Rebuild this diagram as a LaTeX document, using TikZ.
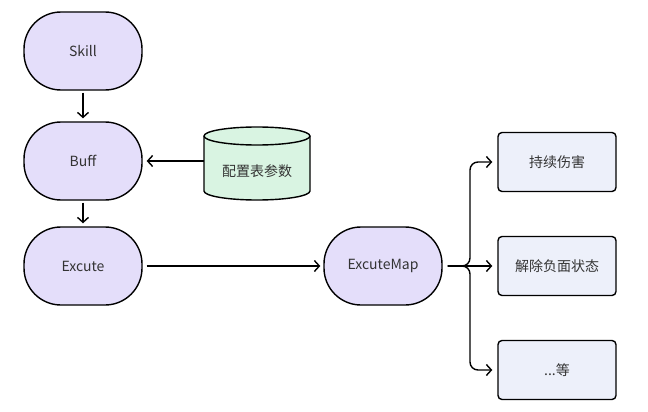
\documentclass[tikz,border=0pt]{standalone}
\usepackage{fontspec}
\setmainfont{Noto Sans CJK SC}
\usetikzlibrary{arrows.meta}
\definecolor{lav}{HTML}{E4DEFA}
\definecolor{mint}{HTML}{D9F4E2}
\definecolor{pale}{HTML}{EDF0FA}
\definecolor{txt}{HTML}{333333}
\begin{document}
\begin{tikzpicture}[x=1pt,y=-1pt,
  font=\fontsize{14pt}{16pt}\selectfont,
  pill/.style={draw=black, line width=1.4pt, fill=lav, rounded corners=37pt,
    minimum width=118pt, minimum height=78pt, text=txt, inner sep=0pt},
  leaf/.style={draw=black, line width=1.4pt, fill=pale, rounded corners=4pt,
    minimum width=118pt, minimum height=59pt, text=txt, inner sep=0pt},
  conn/.style={line width=1.4pt, -{Straight Barb[length=5pt,width=11pt,line width=1.4pt]}}]
\useasboundingbox (0,0) rectangle (648,412);
\fill[white] (0,0) rectangle (648,412);
\node[pill] (skill) at (83,51) {Skill};
\node[pill] (buff) at (83,161) {Buff};
\node[pill] (exc) at (83,266) {Excute};
\node[pill] (em) at (383,266) {ExcuteMap};
\node[leaf] (b1) at (557,162) {持续伤害};
\node[leaf] (b2) at (557,266) {解除负面状态};
\node[leaf] (b3) at (557,370) {...等};
% cylinder
\node[minimum width=106pt, minimum height=73pt, inner sep=0pt] (cfg) at (257,163.5) {};
\filldraw[fill=mint, draw=black, line width=1.4pt]
  (204,136) -- (204,191) arc[start angle=180, end angle=360, x radius=53pt, y radius=9pt]
  -- (310,136) arc[start angle=0, end angle=180, x radius=53pt, y radius=9pt] -- cycle;
\draw[line width=1.4pt] (204,136) arc[start angle=180, end angle=360, x radius=53pt, y radius=9pt];
\node[text=txt] (cfgtext) at (257,171) {配置表参数};
% connectors
\draw[conn, shorten <=2pt, shorten >=3pt] (skill) -- (buff);
\draw[conn, shorten <=2pt, shorten >=3pt] (buff) -- (exc);
\draw[conn, shorten >=4pt] (cfg.west |- buff.east) -- (buff.east);
\draw[conn, shorten <=4pt, shorten >=3pt] (exc) -- (em);
\coordinate (j) at (470,266);
\draw[conn, rounded corners=8pt, shorten <=5pt, shorten >=5pt] (em.east) -- (j) |- (b1.west);
\draw[conn, shorten <=5pt, shorten >=5pt] (em.east) -- (b2.west);
\draw[conn, rounded corners=8pt, shorten <=5pt, shorten >=5pt] (em.east) -- (j) |- (b3.west);
\end{tikzpicture}
\end{document}
